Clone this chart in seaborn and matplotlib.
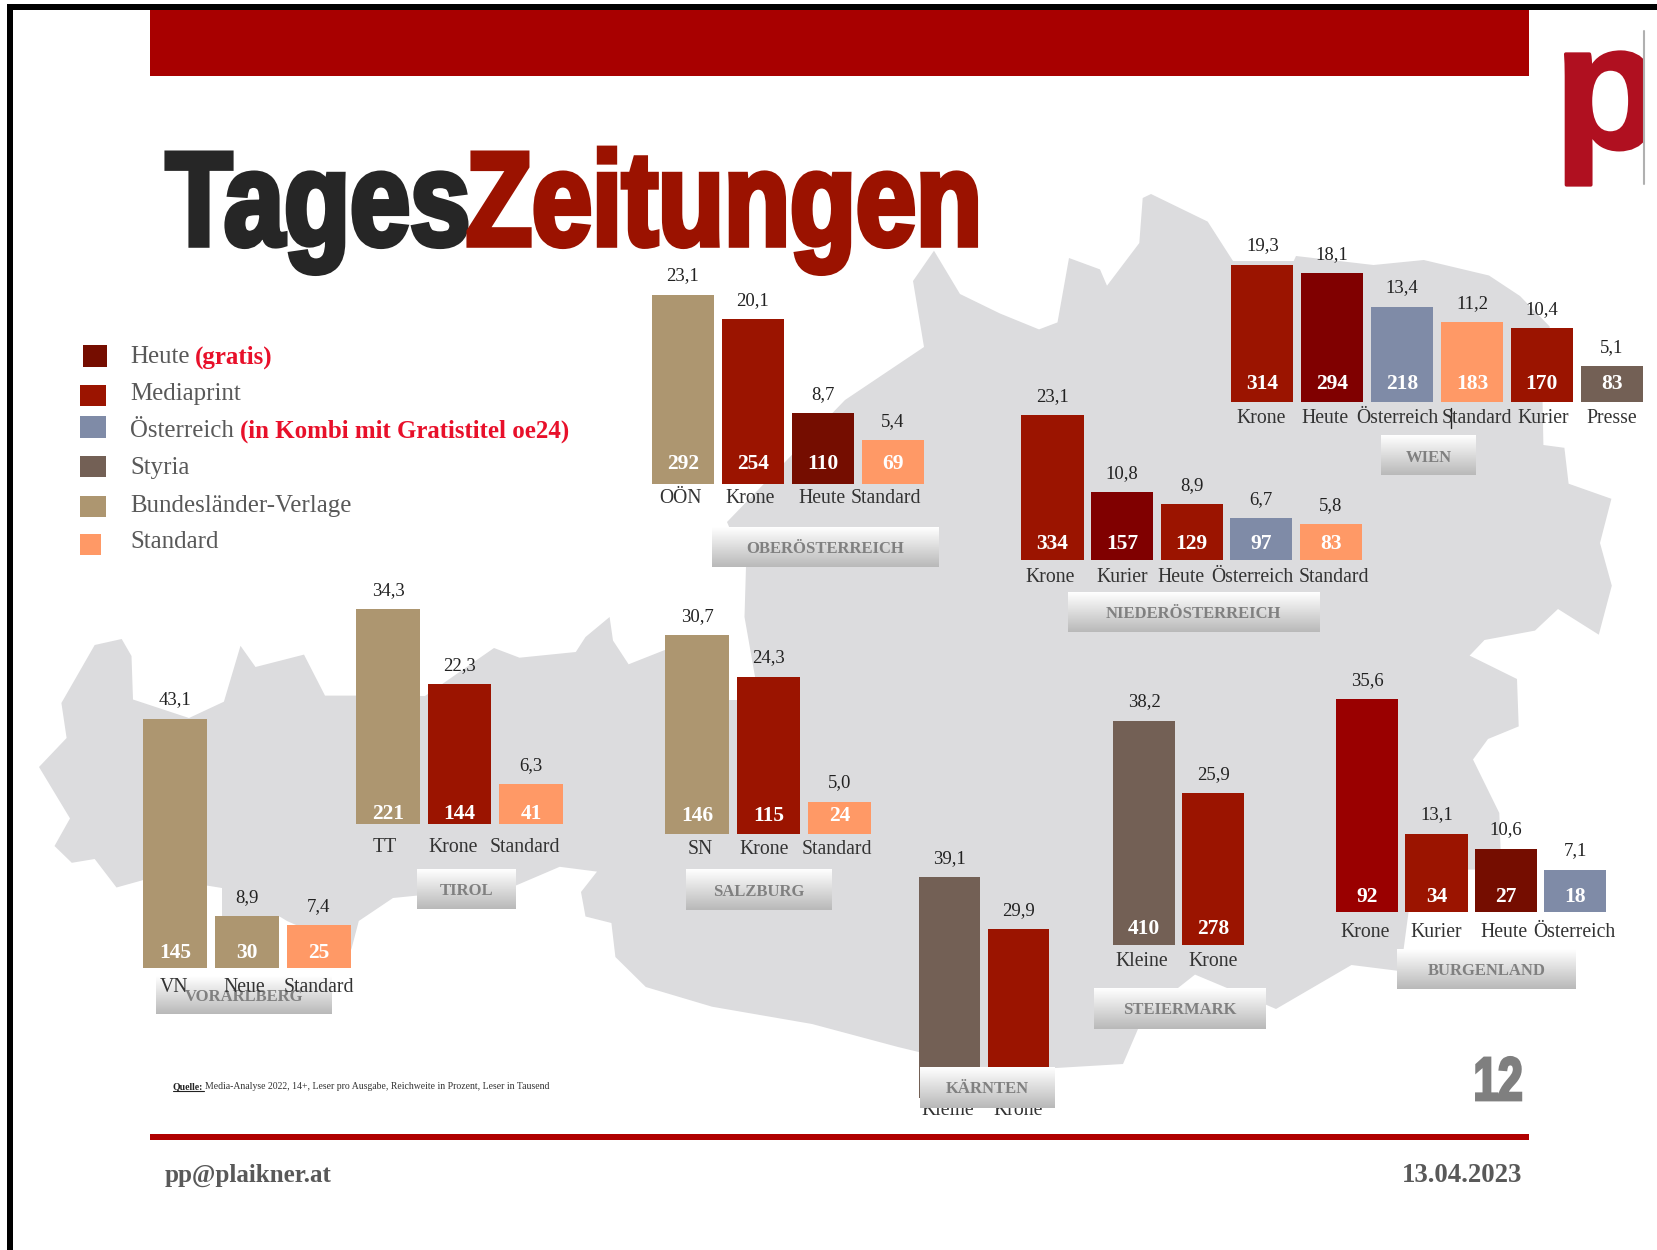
import numpy as np
import pandas as pd
import matplotlib
matplotlib.use("Agg")
import matplotlib.pyplot as plt
import matplotlib.patheffects as pe
from matplotlib.patches import Polygon, Rectangle
from matplotlib.transforms import Affine2D, ScaledTranslation
import seaborn as sns

W, H = 1658, 1250
SERIF = "Liberation Serif"
sns.set_theme(style="white")
plt.rcParams["font.family"] = [SERIF, "DejaVu Serif"]

# ---------- colours
TAN, KRONE, HEUTE, HEUTE2, OE, STD, STY, KRONE2 = (
    "#AD9670", "#9B1400", "#750D00", "#800000", "#7F8BA7", "#FF9966", "#736055", "#9A0000")

# ---------- data
wien_labels = ["Krone", "Heute", "Österreich", "Standard", "Kurier", "Presse"]
wien_pct = [19.3, 18.1, 13.4, 11.2, 10.4, 5.1]
wien_readers = [314, 294, 218, 183, 170, 83]
wien_colors = [KRONE, HEUTE2, OE, STD, KRONE, STY]

noe_labels = ["Krone", "Kurier", "Heute", "Österreich", "Standard"]
noe_pct = [23.1, 10.8, 8.9, 6.7, 5.8]
noe_readers = [334, 157, 129, 97, 83]
noe_colors = [KRONE, HEUTE2, KRONE, OE, STD]

ooe_labels = ["OÖN", "Krone", "Heute", "Standard"]
ooe_pct = [23.1, 20.1, 8.7, 5.4]
ooe_readers = [292, 254, 110, 69]
ooe_colors = [TAN, KRONE, HEUTE, STD]

tirol_labels = ["TT", "Krone", "Standard"]
tirol_pct = [34.3, 22.3, 6.3]
tirol_readers = [221, 144, 41]
tirol_colors = [TAN, KRONE, STD]

sbg_labels = ["SN", "Krone", "Standard"]
sbg_pct = [30.7, 24.3, 5.0]
sbg_readers = [146, 115, 24]
sbg_colors = [TAN, KRONE, STD]

vbg_labels = ["VN", "Neue", "Standard"]
vbg_pct = [43.1, 8.9, 7.4]
vbg_readers = [145, 30, 25]
vbg_colors = [TAN, TAN, STD]

ktn_labels = ["Kleine", "Krone"]
ktn_pct = [39.1, 29.9]
ktn_readers = [None, None]
ktn_colors = [STY, KRONE]

stmk_labels = ["Kleine", "Krone"]
stmk_pct = [38.2, 25.9]
stmk_readers = [410, 278]
stmk_colors = [STY, KRONE]

bgld_labels = ["Krone", "Kurier", "Heute", "Österreich"]
bgld_pct = [35.6, 13.1, 10.6, 7.1]
bgld_readers = [92, 34, 27, 18]
bgld_colors = [KRONE2, KRONE, HEUTE, OE]

legend_names = ["Heute", "Mediaprint", "Österreich", "Styria", "Bundesländer-Verlage", "Standard"]
legend_colors = [HEUTE, KRONE, OE, STY, TAN, STD]

# ---------- layout: labels, pct, readers, colours, first bar left, last bar right, bar width,
#                    baseline, top, tick offset, inner-label offset, tick x shifts
groups = [
    (wien_labels, wien_pct, wien_readers, wien_colors, 1231.2, 1642.9, 62.3, 402.4, 264.5, 16, 18, [-1, -7, -5, 5, 1, 0]),
    (noe_labels, noe_pct, noe_readers, noe_colors, 1021.4, 1362, 62.2, 560.4, 415, 17, 16, [-2, 0, -11, -9, 3]),
    (ooe_labels, ooe_pct, ooe_readers, ooe_colors, 652, 924, 62, 484.5, 294.7, 14, 20, [-2, -3, -1, -7]),
    (tirol_labels, tirol_pct, tirol_readers, tirol_colors, 356.5, 563, 63.5, 823.6, 609.3, 23, 10, [-3, -7, -6]),
    (sbg_labels, sbg_pct, sbg_readers, sbg_colors, 665.3, 871.4, 63.5, 834.2, 635.3, 15, 18, [3, -4, -3]),
    (vbg_labels, vbg_pct, vbg_readers, vbg_colors, 143.5, 350.7, 64, 968, 718.5, 18.5, 15, [-1, -3, 0]),
    (ktn_labels, ktn_pct, ktn_readers, ktn_colors, 918.7, 1049.2, 61.5, 1098, 877, 12, 20, [-2, 0]),
    (stmk_labels, stmk_pct, stmk_readers, stmk_colors, 1113.2, 1243.8, 61.5, 945.4, 720.5, 16, 16, [-2, 0]),
    (bgld_labels, bgld_pct, bgld_readers, bgld_colors, 1336, 1606.5, 62.3, 912, 699, 20, 15, [-2, 0, -2, -1]),
]

# region caption boxes: name, x0, x1, y0, y1
boxes = [
    ("WIEN", 1381.5, 1476, 436, 475.5),
    ("NIEDERÖSTERREICH", 1067.6, 1319.3, 592.7, 631.8),
    ("OBERÖSTERREICH", 711.7, 938, 527, 566.8),
    ("TIROL", 417, 515.5, 869.4, 908.6),
    ("SALZBURG", 686, 831.8, 869.4, 910.4),
    ("VORARLBERG", 156, 331.8, 976, 1013.8),
    ("STEIERMARK", 1094.4, 1266, 988, 1029),
    ("BURGENLAND", 1397, 1576, 949, 989),
]
box_top = ("KÄRNTEN", 920.2, 1055.2, 1067, 1107.7)

austria = [(39,767),(66.6,738),(61.4,703),(94.7,645),(121.7,639),(131.5,656),(133,699.5),(189,718),
    (223.9,701.7),(240.5,645.8),(255.5,667),(304,654.6),(325,695.6),(356.5,695.6),(425,696),(494,648),
    (519.5,657.7),(575.8,652),(585.5,637),(609.6,617),(613,640.5),(628.6,664.3),(664.8,650),(729,700),
    (755,700),(755,676.6),(744.5,617),(746,566.6),(727,522),(845,400),(924,347),(913,281),(934,250.7),
    (960,294),(1000,313.5),(1039,329.4),(1057.5,322.4),(1069,258),(1100,269.4),(1107,285.7),(1139.3,243),
    (1142.7,198),(1151,194),(1207.7,221.6),(1233,261),(1293.7,261),(1296,256),(1373.5,265),(1423.8,260),
    (1489,275.5),(1520,296),(1549.7,326.5),(1542.6,402.4),(1543.4,445),(1564.4,447.8),(1568.6,483.7),
    (1611.4,498.8),(1600,543),(1611.8,585.7),(1598.8,634.7),(1558,609),(1535,630.6),(1484.5,640),
    (1469.6,655.6),(1517,679),(1518.7,726.4),(1488,739),(1473,759.5),(1499.3,813),(1501.3,869.6),
    (1408.5,869.6),(1408.5,912.4),(1403.6,949.3),(1397,970.7),(1351.5,965),(1276,1009),(1227,988),
    (1195,974.6),(1178,988),(1150,1000),(1138,1029),(1123,1064),(1056,1068),(985,1068),(898,1047),
    (812,1024),(712,1006.7),(645.8,987),(615.4,957),(611.4,923),(585.5,916.5),(581,892),(597,871.6),
    (559.7,866.8),(515.5,885.7),(393,898),(358.8,921),(351.3,949.5),(287,921),(279.6,916.5),(222,916.5),
    (222,888),(207.8,885.7),(143.5,880),(116.5,887.5),(94.7,859),(71.8,862.8),(54.5,846),(70,818.4)]


# ---------- helpers
class HScale(pe.AbstractPathEffect):
    """Draw text condensed horizontally about x0 (display px), with a thickening stroke."""

    def __init__(self, x0, sx, lw, color):
        super().__init__()
        self.x0, self.sx, self.lw, self.color = x0, sx, lw, color

    def draw_path(self, renderer, gc, tpath, affine, rgbFace=None):
        a = affine + Affine2D().translate(-self.x0, 0).scale(self.sx, 1).translate(self.x0, 0)
        g = renderer.new_gc()
        g.copy_properties(gc)
        g.set_linewidth(self.lw)
        g.set_foreground(self.color)
        g.set_joinstyle("miter")
        renderer.draw_path(g, tpath, a, rgbFace)
        g.restore()


fig = plt.figure(figsize=(W / 100, H / 100), dpi=100, facecolor="white")


def px_axes(z):
    a = fig.add_axes([0, 0, 1, 1], zorder=z)
    a.set_xlim(0, W)
    a.set_ylim(H, 0)
    a.axis("off")
    a.patch.set_alpha(0)
    return a


grad = np.linspace(0, 1, 64).reshape(-1, 1)
cmap = matplotlib.colors.LinearSegmentedColormap.from_list("b", ["#FFFFFF", "#B9B9B9"])


def caption(a, name, x0, x1, y0, y1):
    a.imshow(grad, extent=(x0, x1, y1, y0), cmap=cmap, aspect="auto", zorder=3, vmin=0, vmax=1)
    a.text((x0 + x1) / 2, (y0 + y1) / 2 + 2, name, ha="center", va="center", fontsize=12,
           fontweight="bold", color="#808080", zorder=4)
    a.set_xlim(0, W)
    a.set_ylim(H, 0)


bg = px_axes(0)
top = px_axes(10)

bg.add_patch(Rectangle((7, 4), W, 6, color="black", lw=0))
bg.add_patch(Rectangle((7, 4), 5.6, H, color="black", lw=0))
bg.add_patch(Polygon(austria, closed=True, facecolor="#DCDCDE", edgecolor="none", zorder=1))
bg.add_patch(Rectangle((150, 10.3), 1379, 65.5, color="#A80000", lw=0, zorder=2))
bg.add_patch(Rectangle((150, 1133.5), 1379, 6.5, color="#B00000", lw=0, zorder=2))
bg.plot([1644, 1644], [31, 184], color="#B0B0B0", lw=1.5, zorder=3)

# logo
logo = bg.text(1554, 148, "p", fontsize=128, family="Liberation Sans", fontweight="bold",
               color="#B01020", ha="left", va="baseline", zorder=2,
               path_effects=[pe.withStroke(linewidth=2.5, foreground="#B01020")])
logo.set_clip_path(Rectangle((0, 0), 1644, H, transform=bg.transData))
logo.set_clip_on(True)

# title
for txt, x, sx, col in [("Tages", 166, 0.81, "#262626"), ("Zeitungen", 466, 0.81, "#9B1200")]:
    bg.text(x, 245, txt, fontsize=96, family="Liberation Sans", fontweight="bold", color=col,
            ha="left", va="baseline", zorder=5, path_effects=[HScale(x, sx, 4, col)])

# legend
sq = [(83, 107, 345, 366.6), (79.7, 106, 384.6, 405.7), (79.7, 106, 416.4, 437.8),
      (79.7, 106, 455.8, 477.2), (79.7, 106, 495.6, 516.6), (79.7, 100.8, 533.5, 554.5)]
ly = [357, 393.6, 431, 468, 506, 542]
for name, col, (x0, x1, y0, y1), y in zip(legend_names, legend_colors, sq, ly):
    bg.add_patch(Rectangle((x0, y0), x1 - x0, y1 - y0, color=col, lw=0, zorder=5))
    bg.text(130, y, name, fontsize=17.9, color="#595959", va="center", ha="left", zorder=5)
bg.text(195, 357, "(gratis)", fontsize=18, fontweight="bold", color="#E8102A", va="center", zorder=5)
bg.text(240, 431, "(in Kombi mit Gratistitel oe24)", fontsize=17.9, fontweight="bold", color="#E8102A",
        va="center", zorder=5)

# footers
bg.text(165, 1175, "pp@plaikner.at", fontsize=18.1, fontweight="bold", color="#595959", va="center")
bg.text(1522.7, 1175, "13.04.2023", fontsize=19.4, fontweight="bold", color="#595959", va="center", ha="right")
bg.text(1522.7, 1100, "12", fontsize=44, family="Liberation Sans", fontweight="bold", color="#7F7F7F", ha="right",
        va="baseline", path_effects=[HScale(1522.7, 0.72, 2, "#7F7F7F")])
bg.text(172.8, 1086.4, "Quelle:", fontsize=7, fontweight="bold", color="#222222", va="center")
bg.plot([172.8, 204], [1091, 1091], color="#222222", lw=0.8)
bg.text(205, 1086.4, "Media-Analyse 2022, 14+, Leser pro Ausgabe, Reichweite in Prozent, Leser in Tausend",
        fontsize=7, color="#333333", va="center")
bg.plot([1450.7, 1450.7], [408, 428], color="#222222", lw=1, zorder=20)

for b in boxes:
    caption(bg, *b)
caption(top, *box_top)

# ---------- bars
for labels, pct, readers, colors, x0, x1, bw, base, ytop, tick_off, inner_off, shifts in groups:
    n = len(labels)
    pitch = (x1 - x0 - bw) / (n - 1)
    left = x0 + bw / 2 - pitch / 2
    width = pitch * n
    ax = fig.add_axes([left / W, 1 - base / H, width / W, (base - ytop) / H], zorder=5)
    ax.patch.set_alpha(0)
    df = pd.DataFrame({"label": labels, "pct": pct})
    sns.barplot(data=df, x="label", y="pct", hue="label", palette=dict(zip(labels, colors)),
                dodge=False, width=bw / pitch, saturation=1, legend=False, linewidth=0, ax=ax)
    ax.set_xlim(-0.5, n - 0.5)
    ax.set_ylim(0, max(pct))
    ax.set(xlabel=None, ylabel=None, yticks=[])
    sns.despine(ax=ax, left=True, bottom=True)
    ax.tick_params(axis="x", length=0, pad=(tick_off - 9) * 0.72, labelsize=14.2, labelcolor="#333333")
    for lab, dx in zip(ax.get_xticklabels(), shifts):
        lab.set_transform(lab.get_transform() + ScaledTranslation(dx / 100, 0, fig.dpi_scale_trans))
    for i, (p, r) in enumerate(zip(pct, readers)):
        ax.annotate(f"{p:.1f}".replace(".", ","), (i, p), xytext=(0, 13.5), textcoords="offset points",
                    ha="center", va="center", fontsize=13.5, color="#222222", annotation_clip=False)
        if r is not None:
            ax.annotate(str(r), (i, 0), xytext=(0, inner_off * 0.72), textcoords="offset points", ha="center",
                        va="center", fontsize=15.5, fontweight="bold", color="white", annotation_clip=False)

fig.savefig("out.png", dpi=100, facecolor="white")
